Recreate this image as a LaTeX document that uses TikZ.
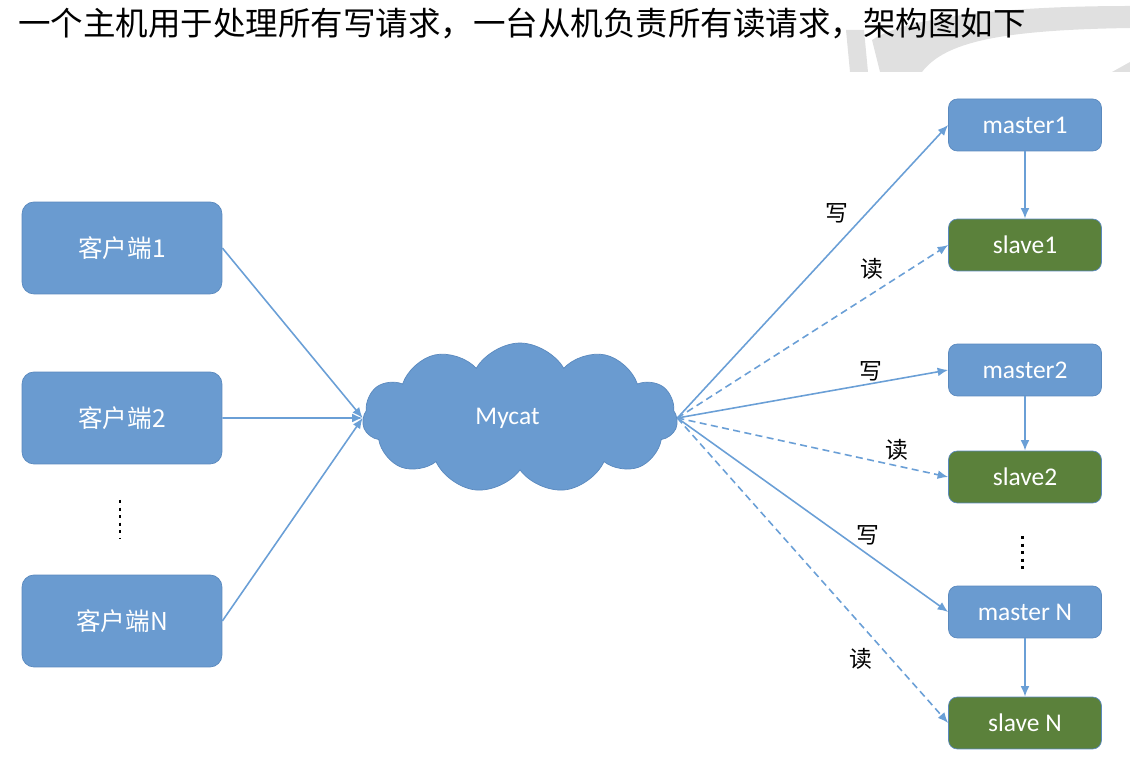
\documentclass[tikz,border=0pt]{standalone}
\usepackage{fontspec}
\setmainfont{Carlito}
\newfontfamily\cjk{Noto Sans CJK SC}
\usepackage{tikz}
\usetikzlibrary{shapes.symbols, positioning, arrows.meta}
\definecolor{nodeblue}{HTML}{6A9BD0}
\definecolor{nodeline}{HTML}{5A89BE}
\definecolor{slavegreen}{HTML}{5B813B}
\definecolor{arrowblue}{HTML}{6A9FD6}
\definecolor{markgray}{HTML}{E0E0E0}
\tikzset{
  flecha/.style={-{Latex[length=6pt,width=5pt]}, line width=0.9pt, draw=arrowblue},
  lectura/.style={flecha, dash pattern=on 4pt off 2.5pt},
  puntos/.style={line width=1.7pt, dash pattern=on 1.7pt off 2.6pt}
}
\begin{document}
\begin{tikzpicture}[x=0.02cm, y=-0.02cm,
        cliente/.style={rectangle, rounded corners=12pt*0.567, draw=nodeline, fill=nodeblue, minimum width=4cm, minimum height=1.84cm, text=white, font=\cjk\fontsize{14}{16}\selectfont},
        maestro/.style={rectangle, rounded corners=5pt, draw=nodeline, fill=nodeblue, minimum width=3.06cm, minimum height=1.04cm, text=white, font=\fontsize{14.5}{16}\selectfont},
        esclavo/.style={maestro, fill=slavegreen},
        nube/.style={cloud, cloud puffs=11, cloud puff arc=120, aspect=2.1, draw=nodeline, fill=nodeblue, minimum width=6.3cm, minimum height=3.0cm, inner sep=0pt, text=white, font=\fontsize{14.5}{16}\selectfont},
        etiqueta/.style={inner sep=0pt, font=\cjk\fontsize{13}{14}\selectfont}
    ]
        \useasboundingbox (0,0) rectangle (1130,766);

        % --- Marca de agua (fondo) ---
        \fill[markgray] (850,72) -- (868,72) -- (864,30) -- (846,30) -- cycle;
        \fill[markgray] (880,72) -- (922,72) .. controls (945,42) and (1000,30) .. (1130,28)
                        -- (1130,6) .. controls (1000,6) and (905,18) .. (872,40) -- cycle;
        \fill[markgray] (1112,72) -- (1130,72) -- (1130,62) -- cycle;

        % --- Titulo ---
        \node[anchor=west, inner sep=0pt, font=\cjk\fontsize{18.5}{20}\selectfont] (titulo) at (18,24)
            {一个主机用于处理所有写请求，一台从机负责所有读请求，架构图如下};

        % --- Clientes ---
        \node[cliente] (cli1) at (122,248) {客户端1};
        \node[cliente] (cli2) at (122,418) {客户端2};
        \node[cliente] (cliN) at (122,621) {客户端N};
        \draw[puntos] (120,500) -- (120,538);

        % --- Mycat ---
        \node[nube] (mycat) at (520,418) {Mycat\hspace*{0.5cm}};

        % --- Maestros y esclavos ---
        \node[maestro] (m1) at (1025,125) {master1};
        \node[esclavo] (s1) at (1025,245) {slave1};
        \node[maestro] (m2) at (1025,370) {master2};
        \node[esclavo] (s2) at (1025,477) {slave2};
        \draw[puntos] (1022,536) -- (1022,572);
        \node[maestro] (mN) at (1025,612) {master N};
        \node[esclavo] (sN) at (1025,723) {slave N};

        % ================= RUTAS Y FLECHAS =================

        % Clientes hacia Mycat
        \draw[flecha] (cli1.east) -- (mycat.west);
        \draw[flecha] (cli2.east) -- (mycat.west);
        \draw[flecha] (cliN.east) -- (mycat.west);

        % Mycat hacia maestros (escritura) y esclavos (lectura)
        \draw[flecha] (mycat.east) -- (m1.west) node[etiqueta, pos=0.70, left=0.36cm] {写};
        \draw[lectura] (mycat.east) -- (s1.west) node[etiqueta, pos=0.72, above=0.26cm] {读};
        \draw[flecha] (mycat.east) -- (m2.west) node[etiqueta, pos=0.716, above=0.04cm] {写};
        \draw[lectura] (mycat.east) -- (s2.west) node[etiqueta, pos=0.81, above=0.1cm] {读};
        \draw[flecha] (mycat.east) -- (mN.west) node[etiqueta, pos=0.705, above=0.18cm] {写};
        \draw[lectura] (mycat.east) -- (sN.west) node[etiqueta, pos=0.79, left=0.36cm] {读};

        % Replicacion maestro -> esclavo
        \draw[flecha] (m1) -- (s1);
        \draw[flecha] (m2) -- (s2);
        \draw[flecha] (mN) -- (sN);

    \end{tikzpicture}
\end{document}
